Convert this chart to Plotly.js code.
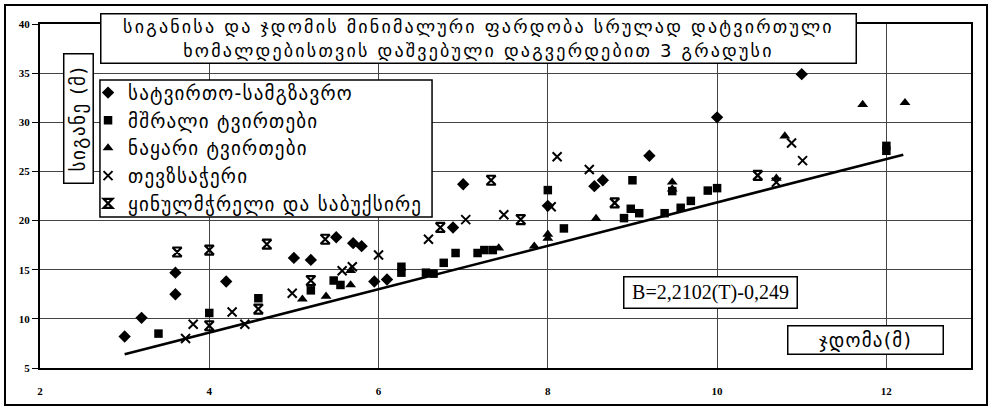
<!DOCTYPE html>
<html>
<head>
<meta charset="utf-8">
<script src="https://cdn.plot.ly/plotly-3.0.1.min.js"></script>
<style>
html,body{margin:0;padding:0;background:#fff;}
#chart{width:993px;height:408px;}
.legendtext{letter-spacing:1.2px;}
.annotation[data-index="0"] .annotation-text{letter-spacing:2.2px;}
.annotation[data-index="1"] .annotation-text{letter-spacing:1.5px;}
.annotation[data-index="3"] .annotation-text{letter-spacing:1.2px;}
</style>
</head>
<body>
<div id="chart"></div>
<script>
// ---- data ----
var seriesNames = ["სატვირთო-სამგზავრო", "მშრალი ტვირთები", "ნაყარი ტვირთები", "თევზსაჭერი", "ყინულმჭრელი და საბუქსირე"];

var diamondX = [3.0, 3.2, 3.6, 3.6, 4.2, 5.0, 5.2, 5.5, 5.7, 5.8, 5.95, 6.1, 6.88, 7.0, 8.0, 8.55, 8.65, 9.2, 10.0, 11.0];
var diamondY = [8.2, 10.1, 14.7, 12.5, 13.8, 16.2, 16.0, 18.3, 17.7, 17.4, 13.8, 14.0, 19.3, 23.7, 21.5, 23.5, 24.1, 26.6, 30.5, 34.9];

var squareX = [3.4, 4.0, 4.58, 5.2, 5.47, 5.55, 6.27, 6.27, 6.56, 6.65, 6.77, 6.91, 7.17, 7.25, 7.35, 8.0, 8.19, 8.9, 8.98, 9.08, 9.0, 9.38, 9.47, 9.57, 9.69, 9.89, 10.0, 12.0, 12.0];
var squareY = [8.5, 10.6, 12.1, 12.9, 13.9, 13.45, 15.3, 14.7, 14.7, 14.6, 15.7, 16.7, 16.7, 17.0, 17.0, 23.1, 19.2, 20.25, 21.2, 20.75, 24.1, 20.75, 23.0, 21.3, 22.0, 23.05, 23.3, 27.6, 27.1];

var triangleX = [5.1, 5.38, 5.67, 5.67, 7.42, 7.84, 8.0, 8.0, 8.57, 9.47, 9.47, 10.7, 10.8, 11.72, 12.22];
var triangleY = [12.0, 12.3, 13.45, 14.9, 17.2, 17.4, 18.2, 18.6, 20.2, 23.2, 23.9, 24.3, 28.6, 31.8, 32.0];

var crossX = [3.72, 3.81, 4.27, 4.42, 4.98, 5.57, 5.69, 6.0, 6.59, 7.03, 7.48, 8.04, 8.11, 8.49, 10.7, 10.88, 11.01];
var crossY = [8.0, 9.45, 10.7, 9.45, 12.6, 14.9, 15.3, 16.5, 18.1, 20.1, 20.6, 21.4, 26.5, 25.2, 23.9, 27.9, 26.1];

var starX = [3.62, 4.0, 4.0, 4.58, 4.68, 5.2, 5.37, 6.73, 7.33, 7.68, 8.79, 10.48];
var starY = [16.8, 17.0, 9.3, 11.0, 17.6, 13.9, 18.1, 19.3, 24.1, 20.1, 21.8, 24.6];

var fitX = [3.0, 12.2];
var fitY = [6.4, 26.7];

var xTicks = [2, 4, 6, 8, 10, 12];
var yTicks = [5, 10, 15, 20, 25, 30, 35, 40];

var titleLines = ["სიგანისა და ჯდომის მინიმალური ფარდობა სრულად დატვირთული", "ხომალდებისთვის დაშვებული დაგვერდებით 3 გრადუსი"];
var yTitle = "სიგანე (მ)";
var xTitle = "ჯდომა(მ)";
var equation = "B=2,2102(T)-0,249";

// ---- chart ----
var geo = "DejaVu Sans";
var serif = "Liberation Serif";

function pts(x, y, name, symbol, size, lw) {
  return {
    x: x, y: y, name: name, type: "scatter", mode: "markers",
    marker: {symbol: symbol, size: size, color: "#000", line: {color: "#000", width: lw}},
    hoverinfo: "x+y"
  };
}

var traces = [
  pts(diamondX, diamondY, seriesNames[0], "diamond", 9.5, 0),
  pts(squareX, squareY, seriesNames[1], "square", 8.5, 0),
  pts(triangleX, triangleY, seriesNames[2], "triangle-up", 9.5, 0),
  pts(crossX, crossY, seriesNames[3], "x-thin-open", 9, 2),
  pts(starX, starY, seriesNames[4], "hourglass-open", 9, 2.2),
  {x: fitX, y: fitY, type: "scatter", mode: "lines", showlegend: false,
   line: {color: "#000", width: 2.6}, hoverinfo: "skip"}
];

var gfont = {family: geo, size: 19, color: "#000"};

function label(text, x, y, font, extra) {
  var a = {text: text, xref: "paper", yref: "paper", x: x, y: y,
           xanchor: "center", yanchor: "middle", showarrow: false, font: font};
  for (var k in extra) a[k] = extra[k];
  return a;
}
var boxed = {borderpad: 1, bordercolor: "#000", borderwidth: 1.5, bgcolor: "#fff"};
function withBox(o) { var r = {}; for (var k in boxed) r[k] = boxed[k]; for (var k2 in o) r[k2] = o[k2]; return r; }

var layout = {
  width: 993, height: 408,
  margin: {l: 40, r: 22, t: 24, b: 40, pad: 0},
  paper_bgcolor: "#fff", plot_bgcolor: "#fff",
  showlegend: true,
  legend: {
    x: 0.0516, xanchor: "left", y: 0.8555, yanchor: "top",
    bgcolor: "rgba(0,0,0,0)", borderwidth: 0,
    font: gfont,
    itemwidth: 30
  },
  xaxis: {
    range: [2, 13], tickvals: xTicks, ticktext: xTicks.map(String),
    showgrid: true, gridcolor: "#444", gridwidth: 1,
    showline: true, linecolor: "#000", linewidth: 2, mirror: true,
    zeroline: false, ticks: "", ticklabelstandoff: 12,
    tickfont: {family: serif, size: 11, color: "#000", weight: "bold"}
  },
  yaxis: {
    range: [5, 40], tickvals: yTicks, ticktext: yTicks.map(String),
    showgrid: true, gridcolor: "#444", gridwidth: 1,
    showline: true, linecolor: "#000", linewidth: 2, mirror: true,
    zeroline: false, ticks: "outside", ticklen: 6, tickcolor: "#000",
    tickfont: {family: serif, size: 11, color: "#000", weight: "bold"}
  },
  shapes: [
    // legend box
    {type: "rect", xref: "paper", yref: "paper", x0: 0.0644, x1: 0.4211, y0: 0.439, y1: 0.8372,
     fillcolor: "#fff", line: {color: "#000", width: 1.5}, layer: "above"},
    // outer frame
    {type: "rect", xref: "paper", yref: "paper", x0: -0.0376, x1: 1.0172, y0: -0.1076, y1: 1.0552,
     fillcolor: "rgba(0,0,0,0)", line: {color: "#000", width: 2}, layer: "above"}
  ],
  annotations: [
    label(titleLines.join("<br>"), 0.4705, 0.959, {family: geo, size: 18, color: "#000"},
          withBox({width: 752, height: 46, align: "center"})),
    label(yTitle, 0.0408, 0.7267, gfont, withBox({textangle: -90, width: 126, height: 26})),
    label(equation, 0.7197, 0.2209, {family: serif, size: 20, color: "#000"}, withBox({width: 170, height: 28})),
    label(xTitle, 0.8872, 0.0828, gfont, withBox({width: 152, height: 25}))
  ]
};

Plotly.newPlot("chart", traces, layout, {displayModeBar: false, staticPlot: true});
</script>
</body>
</html>
